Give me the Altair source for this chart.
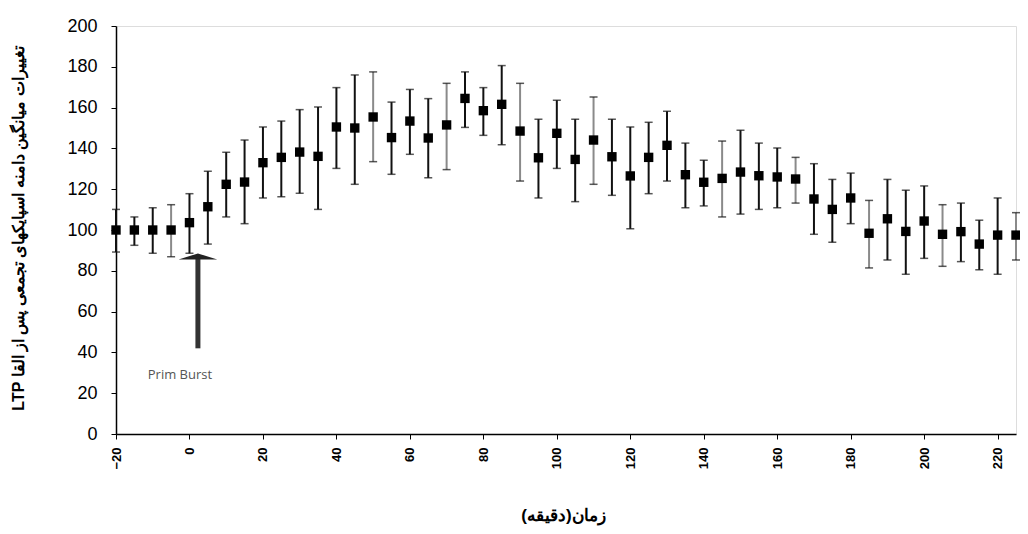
import altair as alt
import pandas as pd

times = [-20, -15, -10, -5, 0, 5, 10, 15, 20, 25, 30, 35, 40, 45, 50, 55, 60, 65, 70, 75,
         80, 85, 90, 95, 100, 105, 110, 115, 120, 125, 130, 135, 140, 145, 150, 155, 160, 165,
         170, 175, 180, 185, 190, 195, 200, 205, 210, 215, 220, 225]
means = [100, 100, 100, 100, 103.6, 111.4, 122.4, 123.5, 133, 135.6, 138.2, 136.1, 150.5, 150,
         155.4, 145.3, 153.4, 145.1, 151.5, 164.5, 158.5, 161.6, 148.5, 135.4, 147.4, 134.6,
         144.1, 135.9, 126.5, 135.6, 141.5, 127.1, 123.4, 125.3, 128.4, 126.6, 126, 125, 115.2,
         110.1, 115.7, 98.4, 105.5, 99.3, 104.4, 97.9, 99.2, 93.1, 97.5, 97.5]
upper = [110.1, 106.4, 110.9, 112.4, 117.8, 128.8, 138.1, 144.1, 150.5, 153.4, 159, 160.3,
         169.8, 176, 177.5, 162.7, 168.9, 164.4, 171.9, 177.5, 169.8, 180.6, 171.9, 154.3,
         163.6, 154.3, 165.2, 154.3, 150.5, 152.8, 158.2, 142.6, 134.2, 143.6, 148.9, 142.6,
         140.2, 135.6, 132.5, 124.8, 127.9, 114.5, 124.8, 119.5, 121.6, 112.4, 113.2, 104.8,
         115.7, 108.5]
lower = [89.2, 92.5, 88.6, 86.9, 88.6, 93.1, 106.4, 103.1, 115.7, 116.3, 118, 110.1, 130.2,
         122.4, 133.5, 127.3, 137.1, 125.6, 129.6, 150.3, 146.4, 141.8, 124, 115.7, 130.2,
         113.9, 122.4, 117, 100.6, 117.8, 124, 110.9, 111.8, 106.4, 107.8, 110.1, 110.9, 113.2,
         97.9, 94, 103.1, 81.4, 85.3, 78.3, 86.1, 82.2, 84.5, 80.5, 78.3, 85.3]
gray_times = [-5, 50, 70, 90, 110, 145, 165, 185, 205, 225]
tone = ["gray" if t in gray_times else "black" for t in times]

x_ticks = [-20, 0, 20, 40, 60, 80, 100, 120, 140, 160, 180, 200, 220]
y_ticks = [0, 20, 40, 60, 80, 100, 120, 140, 160, 180, 200]

arrow_x = [2.3]
arrow_from = [42]
arrow_to = [87]
note_x = [-2.6]
note_y = [29]
note_text = ["Prim Burst"]

x_title = "زمان(دقیقه)"
y_title = "LTP " + "تغییرات میانگین دامنه اسپایکهای تجمعی پس  از  القا"

df = pd.DataFrame({"t": times, "m": means, "hi": upper, "lo": lower, "tone": tone})
arrow_df = pd.DataFrame({"x": arrow_x, "y1": arrow_from, "y2": arrow_to})
note_df = pd.DataFrame({"x": note_x, "y": note_y, "label": note_text})

FONT = "Liberation Sans"

xscale = alt.Scale(domain=[-20, 225], nice=False, zero=False)
yscale = alt.Scale(domain=[0, 200], nice=False)

xaxis = alt.Axis(
    values=x_ticks, title=x_title, labelAngle=270, labelAlign="right", labelBaseline="middle",
    labelFont=FONT, labelFontSize=13, labelFontWeight="bold", labelColor="black",
    labelPadding=8, tickSize=5, tickColor="black", domainColor="black", domainWidth=1.5,
    grid=False, titleFont=FONT, titleFontSize=17, titleFontWeight="bold", titleColor="black",
    titleX=447, titleY=81, titleBaseline="middle", titleAlign="center", labelOverlap=False,
)
yaxis = alt.Axis(
    values=y_ticks, title=y_title, labelFont=FONT, labelFontSize=18, labelColor="black",
    labelPadding=14, tickSize=5, tickColor="black", domainColor="black", domainWidth=1.5,
    grid=False, titleFont=FONT, titleFontSize=16, titleFontWeight="bold", titleColor="black",
    titleAngle=270, titleX=-98, titleY=202, titleBaseline="middle", titleAlign="center",
)

color = alt.Color("tone:N", scale=alt.Scale(domain=["black", "gray"], range=["#111111", "#8a8a8a"]), legend=None)

base = alt.Chart(df)

bars = base.mark_rule(strokeWidth=2).encode(
    x=alt.X("t:Q", scale=xscale, axis=xaxis),
    y=alt.Y("lo:Q", scale=yscale, axis=yaxis),
    y2="hi:Q",
    color=color,
)
cap_hi = base.mark_tick(orient="horizontal", size=8, thickness=1.5, color="#111111").encode(
    x="t:Q", y="hi:Q"
)
cap_lo = base.mark_tick(orient="horizontal", size=8, thickness=1.5, color="#111111").encode(
    x="t:Q", y="lo:Q"
)
points = base.mark_square(size=88, color="#000000", opacity=1).encode(x="t:Q", y="m:Q")

shaft = alt.Chart(arrow_df).mark_rule(strokeWidth=5, color="#333333").encode(
    x="x:Q", y="y1:Q", y2="y2:Q"
)
head = alt.Chart(arrow_df).mark_point(
    shape="M-1,0.16L0,-0.16L1,0.16Z", size=1500, filled=True, color="#222222", opacity=1
).encode(x="x:Q", y="y2:Q")
note = alt.Chart(note_df).mark_text(
    font="Open Sans", fontSize=13, color="#555555", align="center", baseline="middle"
).encode(x="x:Q", y="y:Q", text="label:N")

chart = (
    alt.layer(bars, cap_hi, cap_lo, points, shaft, head, note)
    .properties(width=900, height=408, autosize=alt.AutoSizeParams(type="none"),
                padding={"left": 108, "top": 18, "right": 4, "bottom": 92})
    .configure_view(stroke=None)
    .configure(background="white")
)

chart.save("out.html", embed_options={"renderer": "svg", "actions": False})
